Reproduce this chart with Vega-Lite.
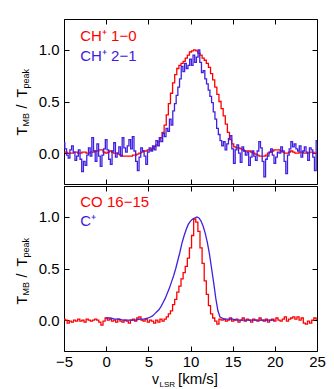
{
  "$schema": "https://vega.github.io/schema/vega-lite/v6.json",
  "autosize": {"type": "pad"},
  "padding": {"left": 15, "top": 18, "right": 19, "bottom": 3},
  "spacing": 0,
  "config": {
    "view": {"stroke": "black", "strokeWidth": 1},
    "font": "Liberation Sans",
    "axis": {"grid": false, "domain": false, "tickColor": "black", "tickSize": -5, "tickWidth": 1, "labelFont": "Liberation Sans", "labelFontSize": 15, "labelColor": "black", "labelPadding": 10, "labelFlush": false, "labelOverlap": false}
  },
  "datasets": {
    "ch10": [
      {"v": -5, "t": 0.01}, {"v": -4.75, "t": 0.01}, {"v": -4.5, "t": 0.0}, {"v": -4.25, "t": 0.0}, {"v": -4, "t": 0.0}, {"v": -3.75, "t": 0.01}, {"v": -3.5, "t": 0.01}, {"v": -3.25, "t": 0.0}, {"v": -3, "t": 0.0}, {"v": -2.75, "t": 0.01},
      {"v": -2.5, "t": 0.01}, {"v": -2.25, "t": 0.0}, {"v": -2, "t": 0.0}, {"v": -1.75, "t": 0.01}, {"v": -1.5, "t": 0.01}, {"v": -1.25, "t": 0.02}, {"v": -1, "t": 0.02}, {"v": -0.75, "t": 0.03}, {"v": -0.5, "t": 0.03}, {"v": -0.25, "t": 0.01},
      {"v": 0, "t": 0.0}, {"v": 0.25, "t": 0.01}, {"v": 0.5, "t": 0.02}, {"v": 0.75, "t": 0.01}, {"v": 1, "t": 0.0}, {"v": 1.25, "t": 0.0}, {"v": 1.5, "t": -0.01}, {"v": 1.75, "t": -0.02}, {"v": 2, "t": -0.03}, {"v": 2.25, "t": -0.03},
      {"v": 2.5, "t": -0.03}, {"v": 2.75, "t": -0.03}, {"v": 3, "t": -0.03}, {"v": 3.25, "t": -0.02}, {"v": 3.5, "t": -0.02}, {"v": 3.75, "t": -0.01}, {"v": 4, "t": 0.0}, {"v": 4.25, "t": 0.01}, {"v": 4.5, "t": 0.02}, {"v": 4.75, "t": 0.02},
      {"v": 5, "t": 0.03}, {"v": 5.25, "t": 0.03}, {"v": 5.5, "t": 0.04}, {"v": 5.75, "t": 0.06}, {"v": 6, "t": 0.08}, {"v": 6.25, "t": 0.11}, {"v": 6.5, "t": 0.15}, {"v": 6.75, "t": 0.2}, {"v": 7, "t": 0.27}, {"v": 7.25, "t": 0.37},
      {"v": 7.5, "t": 0.48}, {"v": 7.75, "t": 0.58}, {"v": 8, "t": 0.68}, {"v": 8.25, "t": 0.76}, {"v": 8.5, "t": 0.82}, {"v": 8.75, "t": 0.85}, {"v": 9, "t": 0.87}, {"v": 9.25, "t": 0.89}, {"v": 9.5, "t": 0.92}, {"v": 9.75, "t": 0.95},
      {"v": 10, "t": 0.98}, {"v": 10.25, "t": 0.99}, {"v": 10.5, "t": 1.0}, {"v": 10.75, "t": 0.99}, {"v": 11, "t": 0.97}, {"v": 11.25, "t": 0.95}, {"v": 11.5, "t": 0.92}, {"v": 11.75, "t": 0.9}, {"v": 12, "t": 0.87}, {"v": 12.25, "t": 0.83},
      {"v": 12.5, "t": 0.77}, {"v": 12.75, "t": 0.71}, {"v": 13, "t": 0.64}, {"v": 13.25, "t": 0.57}, {"v": 13.5, "t": 0.5}, {"v": 13.75, "t": 0.43}, {"v": 14, "t": 0.36}, {"v": 14.25, "t": 0.28}, {"v": 14.5, "t": 0.2}, {"v": 14.75, "t": 0.13},
      {"v": 15, "t": 0.09}, {"v": 15.25, "t": 0.06}, {"v": 15.5, "t": 0.05}, {"v": 15.75, "t": 0.05}, {"v": 16, "t": 0.04}, {"v": 16.25, "t": 0.03}, {"v": 16.5, "t": 0.02}, {"v": 16.75, "t": 0.02}, {"v": 17, "t": 0.02}, {"v": 17.25, "t": 0.01},
      {"v": 17.5, "t": 0.0}, {"v": 17.75, "t": -0.01}, {"v": 18, "t": -0.02}, {"v": 18.25, "t": -0.03}, {"v": 18.5, "t": -0.03}, {"v": 18.75, "t": -0.03}, {"v": 19, "t": -0.02}, {"v": 19.25, "t": 0.0}, {"v": 19.5, "t": 0.01}, {"v": 19.75, "t": 0.02},
      {"v": 20, "t": 0.03}, {"v": 20.25, "t": 0.03}, {"v": 20.5, "t": 0.03}, {"v": 20.75, "t": 0.02}, {"v": 21, "t": 0.01}, {"v": 21.25, "t": 0.0}, {"v": 21.5, "t": 0.0}, {"v": 21.75, "t": 0.01}, {"v": 22, "t": 0.02}, {"v": 22.25, "t": 0.01},
      {"v": 22.5, "t": 0.0}, {"v": 22.75, "t": 0.0}, {"v": 23, "t": 0.01}, {"v": 23.25, "t": 0.01}, {"v": 23.5, "t": 0.0}, {"v": 23.75, "t": 0.0}, {"v": 24, "t": 0.0}, {"v": 24.25, "t": 0.01}, {"v": 24.5, "t": 0.01}, {"v": 24.75, "t": 0.0}, {"v": 25, "t": 0.0}
    ],
    "ch21": [
      {"v": -5.0, "t": 0.1}, {"v": -4.8, "t": 0.04}, {"v": -4.6, "t": -0.02}, {"v": -4.4, "t": -0.05}, {"v": -4.2, "t": 0.03}, {"v": -4.0, "t": 0.07}, {"v": -3.8, "t": 0.01}, {"v": -3.6, "t": -0.07}, {"v": -3.4, "t": -0.03}, {"v": -3.2, "t": 0.03},
      {"v": -3.0, "t": -0.06}, {"v": -2.8, "t": -0.18}, {"v": -2.6, "t": -0.08}, {"v": -2.4, "t": -0.12}, {"v": -2.2, "t": -0.02}, {"v": -2.0, "t": 0.05}, {"v": -1.8, "t": -0.03}, {"v": -1.6, "t": 0.15}, {"v": -1.4, "t": 0.02}, {"v": -1.2, "t": -0.08},
      {"v": -1.0, "t": 0.09}, {"v": -0.8, "t": -0.03}, {"v": -0.6, "t": -0.13}, {"v": -0.4, "t": -0.02}, {"v": -0.2, "t": 0.04}, {"v": 0.0, "t": 0.13}, {"v": 0.2, "t": 0.03}, {"v": 0.4, "t": -0.06}, {"v": 0.6, "t": -0.11}, {"v": 0.8, "t": 0.02},
      {"v": 1.0, "t": 0.1}, {"v": 1.2, "t": -0.04}, {"v": 1.4, "t": 0.0}, {"v": 1.6, "t": 0.06}, {"v": 1.8, "t": -0.03}, {"v": 2.0, "t": 0.15}, {"v": 2.2, "t": 0.05}, {"v": 2.4, "t": 0.01}, {"v": 2.6, "t": 0.07}, {"v": 2.8, "t": 0.13},
      {"v": 3.0, "t": 0.04}, {"v": 3.2, "t": 0.16}, {"v": 3.4, "t": 0.02}, {"v": 3.6, "t": -0.08}, {"v": 3.8, "t": -0.17}, {"v": 4.0, "t": -0.04}, {"v": 4.2, "t": 0.05}, {"v": 4.4, "t": 0.02}, {"v": 4.6, "t": -0.03}, {"v": 4.8, "t": -0.11},
      {"v": 5.0, "t": 0.01}, {"v": 5.2, "t": 0.05}, {"v": 5.4, "t": 0.02}, {"v": 5.6, "t": 0.07}, {"v": 5.8, "t": 0.03}, {"v": 6.0, "t": 0.12}, {"v": 6.2, "t": 0.07}, {"v": 6.4, "t": 0.15}, {"v": 6.6, "t": 0.11}, {"v": 6.8, "t": 0.19},
      {"v": 7.0, "t": 0.16}, {"v": 7.2, "t": 0.24}, {"v": 7.4, "t": 0.21}, {"v": 7.6, "t": 0.33}, {"v": 7.8, "t": 0.27}, {"v": 8.0, "t": 0.41}, {"v": 8.2, "t": 0.48}, {"v": 8.4, "t": 0.56}, {"v": 8.6, "t": 0.64}, {"v": 8.8, "t": 0.72},
      {"v": 9.0, "t": 0.84}, {"v": 9.2, "t": 0.79}, {"v": 9.4, "t": 0.87}, {"v": 9.6, "t": 0.82}, {"v": 9.8, "t": 0.85}, {"v": 10.0, "t": 0.91}, {"v": 10.2, "t": 0.85}, {"v": 10.4, "t": 0.95}, {"v": 10.6, "t": 0.88}, {"v": 10.8, "t": 0.93},
      {"v": 11.0, "t": 1.0}, {"v": 11.2, "t": 0.88}, {"v": 11.4, "t": 0.78}, {"v": 11.6, "t": 0.8}, {"v": 11.8, "t": 0.72}, {"v": 12.0, "t": 0.67}, {"v": 12.2, "t": 0.61}, {"v": 12.4, "t": 0.55}, {"v": 12.6, "t": 0.49}, {"v": 12.8, "t": 0.4},
      {"v": 13.0, "t": 0.33}, {"v": 13.2, "t": 0.24}, {"v": 13.4, "t": 0.18}, {"v": 13.6, "t": 0.12}, {"v": 13.8, "t": 0.07}, {"v": 14.0, "t": 0.11}, {"v": 14.2, "t": 0.03}, {"v": 14.4, "t": 0.09}, {"v": 14.6, "t": 0.14}, {"v": 14.8, "t": 0.17},
      {"v": 15.0, "t": 0.04}, {"v": 15.2, "t": -0.1}, {"v": 15.4, "t": 0.03}, {"v": 15.6, "t": 0.08}, {"v": 15.8, "t": 0.0}, {"v": 16.0, "t": -0.09}, {"v": 16.2, "t": 0.06}, {"v": 16.4, "t": 0.02}, {"v": 16.6, "t": -0.02}, {"v": 16.8, "t": 0.01},
      {"v": 17.0, "t": -0.12}, {"v": 17.2, "t": -0.04}, {"v": 17.4, "t": 0.02}, {"v": 17.6, "t": -0.03}, {"v": 17.8, "t": -0.07}, {"v": 18.0, "t": 0.02}, {"v": 18.2, "t": 0.11}, {"v": 18.4, "t": 0.05}, {"v": 18.6, "t": -0.08}, {"v": 18.8, "t": -0.23},
      {"v": 19.0, "t": -0.06}, {"v": 19.2, "t": -0.03}, {"v": 19.4, "t": 0.01}, {"v": 19.6, "t": 0.04}, {"v": 19.8, "t": -0.02}, {"v": 20.0, "t": -0.1}, {"v": 20.2, "t": -0.04}, {"v": 20.4, "t": 0.01}, {"v": 20.6, "t": 0.0}, {"v": 20.8, "t": 0.06},
      {"v": 21.0, "t": 0.02}, {"v": 21.2, "t": -0.08}, {"v": 21.4, "t": -0.2}, {"v": 21.6, "t": -0.02}, {"v": 21.8, "t": 0.04}, {"v": 22.0, "t": 0.11}, {"v": 22.2, "t": 0.06}, {"v": 22.4, "t": 0.09}, {"v": 22.6, "t": 0.04}, {"v": 22.8, "t": 0.02},
      {"v": 23.0, "t": 0.07}, {"v": 23.2, "t": -0.04}, {"v": 23.4, "t": 0.02}, {"v": 23.6, "t": 0.06}, {"v": 23.8, "t": 0.01}, {"v": 24.0, "t": -0.07}, {"v": 24.2, "t": 0.05}, {"v": 24.4, "t": 0.03}, {"v": 24.6, "t": -0.04}, {"v": 24.8, "t": -0.17},
      {"v": 25.0, "t": 0.12}
    ],
    "co": [
      {"v": -5, "t": 0.01}, {"v": -4.75, "t": 0.0}, {"v": -4.5, "t": -0.03}, {"v": -4.25, "t": -0.01}, {"v": -4, "t": -0.02}, {"v": -3.75, "t": 0.0}, {"v": -3.5, "t": -0.01}, {"v": -3.25, "t": 0.01}, {"v": -3, "t": -0.01}, {"v": -2.75, "t": 0.0},
      {"v": -2.5, "t": -0.02}, {"v": -2.25, "t": 0.01}, {"v": -2, "t": 0.0}, {"v": -1.75, "t": -0.01}, {"v": -1.5, "t": 0.0}, {"v": -1.25, "t": 0.01}, {"v": -1, "t": 0.0}, {"v": -0.75, "t": -0.02}, {"v": -0.5, "t": -0.05}, {"v": -0.25, "t": -0.01},
      {"v": 0, "t": 0.02}, {"v": 0.25, "t": 0.0}, {"v": 0.5, "t": 0.01}, {"v": 0.75, "t": -0.01}, {"v": 1, "t": 0.0}, {"v": 1.25, "t": -0.02}, {"v": 1.5, "t": 0.01}, {"v": 1.75, "t": -0.01}, {"v": 2, "t": -0.02}, {"v": 2.25, "t": 0.0},
      {"v": 2.5, "t": -0.01}, {"v": 2.75, "t": -0.03}, {"v": 3, "t": 0.0}, {"v": 3.25, "t": 0.01}, {"v": 3.5, "t": -0.01}, {"v": 3.75, "t": 0.02}, {"v": 4, "t": 0.03}, {"v": 4.25, "t": 0.0}, {"v": 4.5, "t": -0.01}, {"v": 4.75, "t": 0.01},
      {"v": 5, "t": -0.02}, {"v": 5.25, "t": 0.0}, {"v": 5.5, "t": -0.01}, {"v": 5.75, "t": -0.03}, {"v": 6, "t": 0.0}, {"v": 6.25, "t": -0.02}, {"v": 6.5, "t": 0.01}, {"v": 6.75, "t": -0.01}, {"v": 7, "t": 0.01}, {"v": 7.25, "t": 0.03},
      {"v": 7.5, "t": 0.06}, {"v": 7.75, "t": 0.09}, {"v": 8, "t": 0.15}, {"v": 8.25, "t": 0.2}, {"v": 8.5, "t": 0.27}, {"v": 8.75, "t": 0.33}, {"v": 9, "t": 0.4}, {"v": 9.25, "t": 0.46}, {"v": 9.5, "t": 0.52}, {"v": 9.75, "t": 0.6},
      {"v": 10, "t": 0.7}, {"v": 10.25, "t": 0.82}, {"v": 10.5, "t": 0.98}, {"v": 10.75, "t": 0.95}, {"v": 11, "t": 0.86}, {"v": 11.25, "t": 0.7}, {"v": 11.5, "t": 0.55}, {"v": 11.75, "t": 0.38}, {"v": 12, "t": 0.25}, {"v": 12.25, "t": 0.14},
      {"v": 12.5, "t": 0.06}, {"v": 12.75, "t": 0.02}, {"v": 13, "t": -0.01}, {"v": 13.25, "t": -0.04}, {"v": 13.5, "t": 0.01}, {"v": 13.75, "t": 0.0}, {"v": 14, "t": 0.01}, {"v": 14.25, "t": -0.01}, {"v": 14.5, "t": 0.0}, {"v": 14.75, "t": 0.02},
      {"v": 15, "t": -0.01}, {"v": 15.25, "t": 0.0}, {"v": 15.5, "t": 0.01}, {"v": 15.75, "t": -0.02}, {"v": 16, "t": 0.0}, {"v": 16.25, "t": 0.02}, {"v": 16.5, "t": -0.01}, {"v": 16.75, "t": 0.01}, {"v": 17, "t": 0.0}, {"v": 17.25, "t": -0.02},
      {"v": 17.5, "t": 0.01}, {"v": 17.75, "t": 0.0}, {"v": 18, "t": -0.01}, {"v": 18.25, "t": 0.02}, {"v": 18.5, "t": 0.0}, {"v": 18.75, "t": -0.01}, {"v": 19, "t": 0.01}, {"v": 19.25, "t": -0.02}, {"v": 19.5, "t": 0.0}, {"v": 19.75, "t": 0.01},
      {"v": 20, "t": -0.01}, {"v": 20.25, "t": 0.02}, {"v": 20.5, "t": 0.0}, {"v": 20.75, "t": -0.01}, {"v": 21, "t": 0.01}, {"v": 21.25, "t": 0.03}, {"v": 21.5, "t": -0.01}, {"v": 21.75, "t": 0.01}, {"v": 22, "t": 0.02}, {"v": 22.25, "t": 0.03},
      {"v": 22.5, "t": 0.01}, {"v": 22.75, "t": 0.03}, {"v": 23, "t": 0.0}, {"v": 23.25, "t": 0.02}, {"v": 23.5, "t": -0.03}, {"v": 23.75, "t": -0.04}, {"v": 24, "t": -0.01}, {"v": 24.25, "t": -0.03}, {"v": 24.5, "t": 0.0}, {"v": 24.75, "t": 0.02}, {"v": 25, "t": 0.01}
    ],
    "cplus": [
      {"v": 0, "t": 0.02}, {"v": 0.5, "t": 0.02}, {"v": 1, "t": 0.01}, {"v": 1.5, "t": 0.01}, {"v": 2, "t": 0.0}, {"v": 2.5, "t": 0.0}, {"v": 3, "t": 0.0}, {"v": 3.5, "t": 0.0}, {"v": 4, "t": 0.01}, {"v": 4.5, "t": 0.01},
      {"v": 5, "t": 0.02}, {"v": 5.25, "t": 0.03}, {"v": 5.5, "t": 0.04}, {"v": 5.75, "t": 0.06}, {"v": 6, "t": 0.08}, {"v": 6.25, "t": 0.1}, {"v": 6.5, "t": 0.13}, {"v": 6.75, "t": 0.17}, {"v": 7, "t": 0.21}, {"v": 7.25, "t": 0.26},
      {"v": 7.5, "t": 0.31}, {"v": 7.75, "t": 0.37}, {"v": 8, "t": 0.43}, {"v": 8.25, "t": 0.5}, {"v": 8.5, "t": 0.58}, {"v": 8.75, "t": 0.66}, {"v": 9, "t": 0.75}, {"v": 9.25, "t": 0.82}, {"v": 9.5, "t": 0.88}, {"v": 9.75, "t": 0.93},
      {"v": 10, "t": 0.96}, {"v": 10.25, "t": 0.98}, {"v": 10.5, "t": 0.99}, {"v": 10.75, "t": 1.0}, {"v": 11, "t": 0.99}, {"v": 11.25, "t": 0.96}, {"v": 11.5, "t": 0.91}, {"v": 11.75, "t": 0.84}, {"v": 12, "t": 0.75}, {"v": 12.25, "t": 0.64},
      {"v": 12.5, "t": 0.5}, {"v": 12.75, "t": 0.36}, {"v": 13, "t": 0.21}, {"v": 13.25, "t": 0.09}, {"v": 13.5, "t": 0.03}, {"v": 13.75, "t": 0.02}, {"v": 14, "t": 0.01}, {"v": 14.5, "t": 0.01}, {"v": 15, "t": 0.01}, {"v": 15.5, "t": 0.0},
      {"v": 16, "t": 0.0}, {"v": 16.5, "t": 0.0}, {"v": 17, "t": 0.0}, {"v": 17.5, "t": 0.0}, {"v": 18, "t": 0.0}, {"v": 18.5, "t": 0.0}, {"v": 19, "t": 0.0}, {"v": 19.5, "t": 0.0}, {"v": 20, "t": 0.0}
    ]
  },
  "vconcat": [
    {
      "width": 253,
      "height": 165,
      "layer": [
        {
          "data": {"name": "ch10"},
          "mark": {"type": "line", "interpolate": "step", "color": "#ff0000", "strokeWidth": 1.3},
          "encoding": {
            "x": {"field": "v", "type": "quantitative", "scale": {"domain": [-5, 25], "nice": false, "zero": false}, "axis": {"orient": "bottom", "values": [-5, 0, 5, 10, 15, 20, 25], "labels": false, "title": null}},
            "y": {"field": "t", "type": "quantitative", "scale": {"domain": [-0.3, 1.3], "nice": false, "zero": false}, "axis": {"orient": "left", "values": [0, 0.5, 1], "format": ".1f", "title": null}}
          }
        },
        {
          "data": {"name": "ch21"},
          "mark": {"type": "line", "interpolate": "step", "color": "#4020e0", "strokeWidth": 1.3},
          "encoding": {
            "x": {"field": "v", "type": "quantitative", "axis": null},
            "y": {"field": "t", "type": "quantitative", "axis": null}
          }
        },
        {
          "data": {"values": [{}]},
          "mark": {"type": "text", "text": "CH⁺ 1−0", "color": "#ff0000", "fontSize": 15, "align": "left", "baseline": "alphabetic", "clip": false},
          "encoding": {
            "x": {"datum": -3.07, "type": "quantitative", "axis": {"orient": "top", "values": [-5, 0, 5, 10, 15, 20, 25], "labels": false, "title": null}},
            "y": {"datum": 1.09, "type": "quantitative", "axis": {"orient": "right", "values": [0, 0.5, 1], "labels": false, "title": null}}
          }
        },
        {
          "data": {"values": [{}]},
          "mark": {"type": "text", "text": "CH⁺ 2−1", "color": "#4020e0", "fontSize": 15, "align": "left", "baseline": "alphabetic", "clip": false},
          "encoding": {
            "x": {"datum": -3.07, "type": "quantitative", "axis": null},
            "y": {"datum": 0.896, "type": "quantitative", "axis": null}
          }
        },
        {
          "data": {"values": [{}]},
          "mark": {"type": "text", "text": "T", "color": "black", "fontSize": 14, "angle": 270, "align": "left", "baseline": "alphabetic", "dx": -34, "dy": 0, "clip": false},
          "encoding": {"x": {"datum": -9.39, "type": "quantitative", "axis": null}, "y": {"datum": 0.5, "type": "quantitative", "axis": null}}
        },
        {
          "data": {"values": [{}]},
          "mark": {"type": "text", "text": "MB", "color": "black", "fontSize": 9, "angle": 270, "align": "left", "baseline": "alphabetic", "dx": -25, "dy": 2, "clip": false},
          "encoding": {"x": {"datum": -9.39, "type": "quantitative", "axis": null}, "y": {"datum": 0.5, "type": "quantitative", "axis": null}}
        },
        {
          "data": {"values": [{}]},
          "mark": {"type": "text", "text": "/", "color": "black", "fontSize": 14, "angle": 270, "align": "left", "baseline": "alphabetic", "dx": -7, "dy": 0, "clip": false},
          "encoding": {"x": {"datum": -9.39, "type": "quantitative", "axis": null}, "y": {"datum": 0.5, "type": "quantitative", "axis": null}}
        },
        {
          "data": {"values": [{}]},
          "mark": {"type": "text", "text": "T", "color": "black", "fontSize": 14, "angle": 270, "align": "left", "baseline": "alphabetic", "dx": 4, "dy": 0, "clip": false},
          "encoding": {"x": {"datum": -9.39, "type": "quantitative", "axis": null}, "y": {"datum": 0.5, "type": "quantitative", "axis": null}}
        },
        {
          "data": {"values": [{}]},
          "mark": {"type": "text", "text": "peak", "color": "black", "fontSize": 9, "angle": 270, "align": "left", "baseline": "alphabetic", "dx": 13, "dy": 2, "clip": false},
          "encoding": {"x": {"datum": -9.39, "type": "quantitative", "axis": null}, "y": {"datum": 0.5, "type": "quantitative", "axis": null}}
        }
      ],
      "resolve": {"axis": {"x": "independent", "y": "independent"}}
    },
    {
      "width": 253,
      "height": 165,
      "layer": [
        {
          "data": {"name": "co"},
          "mark": {"type": "line", "interpolate": "step", "color": "#ff0000", "strokeWidth": 1.3},
          "encoding": {
            "x": {"field": "v", "type": "quantitative", "scale": {"domain": [-5, 25], "nice": false, "zero": false}, "axis": {"orient": "bottom", "values": [-5, 0, 5, 10, 15, 20, 25], "format": "d", "title": null, "labelPadding": 8}},
            "y": {"field": "t", "type": "quantitative", "scale": {"domain": [-0.3, 1.3], "nice": false, "zero": false}, "axis": {"orient": "left", "values": [0, 0.5, 1], "format": ".1f", "title": null}}
          }
        },
        {
          "data": {"name": "cplus"},
          "mark": {"type": "line", "color": "#4020e0", "strokeWidth": 1.3},
          "encoding": {
            "x": {"field": "v", "type": "quantitative", "axis": null},
            "y": {"field": "t", "type": "quantitative", "axis": null}
          }
        },
        {
          "data": {"values": [{}]},
          "mark": {"type": "text", "text": "CO 16−15", "color": "#ff0000", "fontSize": 15, "align": "left", "baseline": "alphabetic", "clip": false},
          "encoding": {
            "x": {"datum": -3.07, "type": "quantitative", "axis": {"orient": "top", "values": [-5, 0, 5, 10, 15, 20, 25], "labels": false, "title": null}},
            "y": {"datum": 1.097, "type": "quantitative", "axis": {"orient": "right", "values": [0, 0.5, 1], "labels": false, "title": null}}
          }
        },
        {
          "data": {"values": [{}]},
          "mark": {"type": "text", "text": "C⁺", "color": "#4020e0", "fontSize": 15, "align": "left", "baseline": "alphabetic", "clip": false},
          "encoding": {
            "x": {"datum": -3.07, "type": "quantitative", "axis": null},
            "y": {"datum": 0.909, "type": "quantitative", "axis": null}
          }
        },
        {
          "data": {"values": [{}]},
          "mark": {"type": "text", "text": "T", "color": "black", "fontSize": 14, "angle": 270, "align": "left", "baseline": "alphabetic", "dx": -34, "dy": 0, "clip": false},
          "encoding": {"x": {"datum": -9.39, "type": "quantitative", "axis": null}, "y": {"datum": 0.48, "type": "quantitative", "axis": null}}
        },
        {
          "data": {"values": [{}]},
          "mark": {"type": "text", "text": "MB", "color": "black", "fontSize": 9, "angle": 270, "align": "left", "baseline": "alphabetic", "dx": -25, "dy": 2, "clip": false},
          "encoding": {"x": {"datum": -9.39, "type": "quantitative", "axis": null}, "y": {"datum": 0.48, "type": "quantitative", "axis": null}}
        },
        {
          "data": {"values": [{}]},
          "mark": {"type": "text", "text": "/", "color": "black", "fontSize": 14, "angle": 270, "align": "left", "baseline": "alphabetic", "dx": -7, "dy": 0, "clip": false},
          "encoding": {"x": {"datum": -9.39, "type": "quantitative", "axis": null}, "y": {"datum": 0.48, "type": "quantitative", "axis": null}}
        },
        {
          "data": {"values": [{}]},
          "mark": {"type": "text", "text": "T", "color": "black", "fontSize": 14, "angle": 270, "align": "left", "baseline": "alphabetic", "dx": 4, "dy": 0, "clip": false},
          "encoding": {"x": {"datum": -9.39, "type": "quantitative", "axis": null}, "y": {"datum": 0.48, "type": "quantitative", "axis": null}}
        },
        {
          "data": {"values": [{}]},
          "mark": {"type": "text", "text": "peak", "color": "black", "fontSize": 9, "angle": 270, "align": "left", "baseline": "alphabetic", "dx": 13, "dy": 2, "clip": false},
          "encoding": {"x": {"datum": -9.39, "type": "quantitative", "axis": null}, "y": {"datum": 0.48, "type": "quantitative", "axis": null}}
        },
        {
          "data": {"values": [{}]},
          "mark": {"type": "text", "text": "v", "color": "black", "fontSize": 14, "align": "left", "baseline": "alphabetic", "dx": 0, "dy": 5, "clip": false},
          "encoding": {"x": {"datum": 5.435, "type": "quantitative", "axis": null}, "y": {"datum": -0.5745, "type": "quantitative", "axis": null}}
        },
        {
          "data": {"values": [{}]},
          "mark": {"type": "text", "text": "LSR", "color": "black", "fontSize": 8, "align": "left", "baseline": "alphabetic", "dx": 7.5, "dy": 7.5, "clip": false},
          "encoding": {"x": {"datum": 5.435, "type": "quantitative", "axis": null}, "y": {"datum": -0.5745, "type": "quantitative", "axis": null}}
        },
        {
          "data": {"values": [{}]},
          "mark": {"type": "text", "text": "[km/s]", "color": "black", "fontSize": 15, "align": "left", "baseline": "alphabetic", "dx": 26, "dy": 5, "clip": false},
          "encoding": {"x": {"datum": 5.435, "type": "quantitative", "axis": null}, "y": {"datum": -0.5745, "type": "quantitative", "axis": null}}
        }
      ],
      "resolve": {"axis": {"x": "independent", "y": "independent"}}
    }
  ]
}
